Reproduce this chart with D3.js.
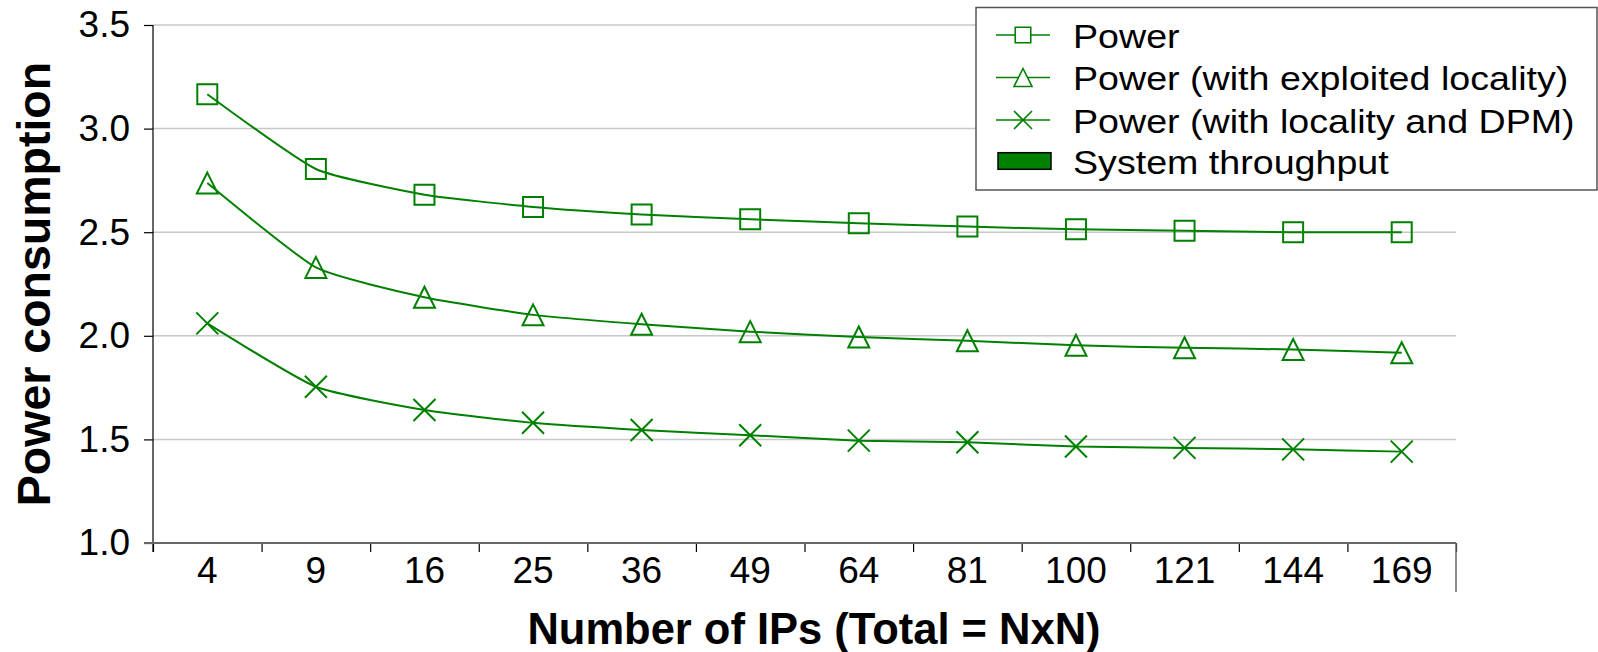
<!DOCTYPE html>
<html>
<head>
<meta charset="utf-8">
<script src="https://cdn.jsdelivr.net/npm/d3@7"></script>
<style>
  body { margin: 0; background: #fff; }
  svg { display: block; font-family: "Liberation Sans", Arial, sans-serif; }
</style>
</head>
<body>
<svg id="chart" width="1598" height="652"></svg>
<script>
// categories op de x-as
var categories = ["4", "9", "16", "25", "36", "49", "64", "81", "100", "121", "144", "169"];

// waardes
var power = [3.166, 2.805, 2.681, 2.622, 2.586, 2.562, 2.543, 2.527, 2.514, 2.507, 2.500, 2.500];
var powerLocality = [2.737, 2.330, 2.186, 2.101, 2.056, 2.020, 1.994, 1.976, 1.954, 1.942, 1.934, 1.918];
var powerDpm = [2.060, 1.754, 1.642, 1.580, 1.545, 1.520, 1.494, 1.486, 1.466, 1.459, 1.452, 1.441];

// y ticks
var yTicks = [1.0, 1.5, 2.0, 2.5, 3.0, 3.5];

// legenda teksten
var legendNames = ["Power", "Power (with exploited locality)", "Power (with locality and DPM)", "System throughput"];

var green = "#008000";

// plot gebied
var margin = {top: 25, right: 142, bottom: 109, left: 153};
var width = 1598 - margin.left - margin.right;
var height = 652 - margin.top - margin.bottom;

var svg = d3.select("#chart");

var x = d3.scaleBand()
    .domain(categories)
    .range([margin.left, margin.left + width]);

var y = d3.scaleLinear()
    .domain([1, 3.5])
    .range([margin.top + height, margin.top]);

// schaal voor de grenzen tussen de categories
var xEdges = d3.scaleLinear()
    .domain([0, categories.length])
    .range([margin.left, margin.left + width]);

// maakt een marker pad
function markerPath(type, s) {
  var h = s / 2;
  if (type === "square") {
    return "M" + (-h) + "," + (-h) + "h" + s + "v" + s + "h" + (-s) + "Z";
  }
  if (type === "triangle") {
    return "M0," + (-h) + "L" + h + "," + h + "L" + (-h) + "," + h + "Z";
  }
  return "M" + (-h) + "," + (-h) + "L" + h + "," + h + "M" + (-h) + "," + h + "L" + h + "," + (-h);
}

// gridlijnen
svg.append("g")
    .attr("class", "grid")
  .selectAll("line")
  .data(yTicks.filter(function(d) { return d > 1; }))
  .enter().append("line")
    .attr("x1", margin.left)
    .attr("x2", margin.left + width)
    .attr("y1", function(d) { return y(d); })
    .attr("y2", function(d) { return y(d); })
    .attr("stroke", "#c8c8c8")
    .attr("stroke-width", 1.5);

// y as
var yAxis = svg.append("g")
    .attr("transform", "translate(" + margin.left + ",0)")
    .call(d3.axisLeft(y).tickValues(yTicks).tickFormat(d3.format(".1f")).tickSize(9).tickPadding(14));

yAxis.select(".domain")
    .attr("d", "M0," + y(3.5) + "V" + (y(1) + 9))
    .attr("stroke", "#000")
    .attr("stroke-width", 1.2);

yAxis.selectAll(".tick line").attr("stroke", "#000").attr("stroke-width", 1.2);
yAxis.selectAll("text")
    .attr("font-size", "37px")
    .attr("fill", "#000")
    .attr("font-family", "Liberation Sans, Arial, sans-serif");

// x as streepjes tussen de categories
var xTicks = svg.append("g")
    .attr("transform", "translate(0," + y(1) + ")")
    .call(d3.axisBottom(xEdges).ticks(categories.length).tickFormat("").tickSize(9));

xTicks.select(".domain").remove();
xTicks.selectAll(".tick line").attr("stroke", "#000").attr("stroke-width", 1.2);

// x as lijn
svg.append("line")
    .attr("x1", margin.left - 9)
    .attr("x2", margin.left + width)
    .attr("y1", y(1))
    .attr("y2", y(1))
    .attr("stroke", "#666")
    .attr("stroke-width", 2);

// rechter rand onder de as
svg.append("line")
    .attr("x1", margin.left + width)
    .attr("x2", margin.left + width)
    .attr("y1", y(1))
    .attr("y2", y(1) + 49)
    .attr("stroke", "#666")
    .attr("stroke-width", 1.5);

// x labels
var xAxis = svg.append("g")
    .attr("transform", "translate(0," + y(1) + ")")
    .call(d3.axisBottom(x).tickSize(0));

xAxis.select(".domain").remove();
xAxis.selectAll("text")
    .attr("y", 40)
    .attr("dy", null)
    .attr("font-size", "37px")
    .attr("fill", "#000")
    .attr("font-family", "Liberation Sans, Arial, sans-serif");

// as titels
svg.append("text")
    .attr("x", 814)
    .attr("y", 644)
    .attr("text-anchor", "middle")
    .attr("font-size", "43.5px")
    .attr("font-weight", "bold")
    .text("Number of IPs (Total = NxN)");

svg.append("text")
    .attr("transform", "translate(50,284) rotate(-90)")
    .attr("text-anchor", "middle")
    .attr("font-size", "46.5px")
    .attr("font-weight", "bold")
    .text("Power consumption");

// de lijnen
var series = [
  {name: legendNames[0], values: power, marker: "square", size: 20},
  {name: legendNames[1], values: powerLocality, marker: "triangle", size: 21},
  {name: legendNames[2], values: powerDpm, marker: "cross", size: 22}
];

var line = d3.line()
    .x(function(d, i) { return x(categories[i]) + x.bandwidth() / 2; })
    .y(function(d) { return y(d); })
    .curve(d3.curveCardinal.tension(0.5));

var groups = svg.selectAll(".serie")
    .data(series)
    .enter().append("g")
    .attr("class", "serie");

groups.append("path")
    .attr("d", function(d) { return line(d.values); })
    .attr("fill", "none")
    .attr("stroke", green)
    .attr("stroke-width", 2);

groups.selectAll(".marker")
    .data(function(d) { return d.values.map(function(v, i) { return {v: v, i: i, marker: d.marker, size: d.size}; }); })
    .enter().append("path")
    .attr("class", "marker")
    .attr("transform", function(d) {
      return "translate(" + (x(categories[d.i]) + x.bandwidth() / 2) + "," + y(d.v) + ")";
    })
    .attr("d", function(d) { return markerPath(d.marker, d.size); })
    .attr("fill", "none")
    .attr("stroke", green)
    .attr("stroke-width", 2);

// legenda
var legend = svg.append("g").attr("class", "legend");

legend.append("rect")
    .attr("x", 976)
    .attr("y", 7.5)
    .attr("width", 621)
    .attr("height", 182.5)
    .attr("fill", "#fff")
    .attr("stroke", "#555")
    .attr("stroke-width", 1.5);

var rowY = [35, 77.5, 120, 161];
var legendMarkers = [["square", 15.5], ["triangle", 18], ["cross", 18]];

legendMarkers.forEach(function(m, i) {
  legend.append("line")
      .attr("x1", 996)
      .attr("x2", 1050)
      .attr("y1", rowY[i])
      .attr("y2", rowY[i])
      .attr("stroke", green)
      .attr("stroke-width", 1.6);
  legend.append("path")
      .attr("transform", "translate(1023," + rowY[i] + ")")
      .attr("d", markerPath(m[0], m[1]))
      .attr("fill", "#fff")
      .attr("stroke", green)
      .attr("stroke-width", 1.6);
});

legend.append("rect")
    .attr("x", 998)
    .attr("y", rowY[3] - 8.3)
    .attr("width", 53)
    .attr("height", 16.6)
    .attr("fill", green)
    .attr("stroke", "#000")
    .attr("stroke-width", 1.5);

legend.selectAll(".legendText")
    .data(legendNames)
    .enter().append("text")
    .attr("class", "legendText")
    .attr("transform", function(d, i) { return "translate(1073," + (rowY[i] + 12.5) + ") scale(1.14,1)"; })
    .attr("font-size", "33px")
    .attr("fill", "#000")
    .text(function(d) { return d; });
</script>
</body>
</html>
